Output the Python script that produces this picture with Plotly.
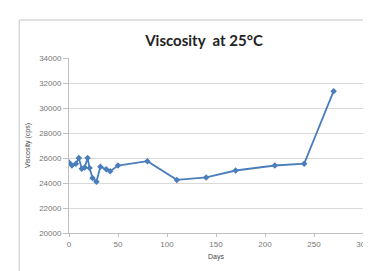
import plotly.graph_objects as go

days = [0, 3, 7, 10, 13, 16, 19, 21, 24, 28, 32, 38, 42, 50, 80, 110, 140, 170, 210, 240, 270]
viscosity = [25650, 25400, 25550, 26000, 25150, 25250, 26000, 25200, 24400, 24100, 25300, 25100, 24950, 25400, 25750, 24250, 24450, 25000, 25400, 25550, 31350]
y_ticks = [20000, 22000, 24000, 26000, 28000, 30000, 32000, 34000]
x_ticks = [0, 50, 100, 150, 200, 250, 300]

W, H = 371, 271
ml, mr, mt, mb = 61, 9, 50, 46
pw, ph = W - ml - mr, H - mt - mb

def px(x):
    return (x - ml) / pw

def py(y):
    return (H - mb - y) / ph

fig = go.Figure()
fig.add_trace(go.Scatter(
    x=days, y=viscosity, mode="lines+markers",
    line=dict(color="#4A7EBB", width=1.8),
    marker=dict(symbol="diamond", size=5, color="#4A7EBB"),
    showlegend=False,
))

fig.update_layout(
    width=W, height=H,
    margin=dict(l=ml, r=mr, t=mt, b=mb),
    paper_bgcolor="white", plot_bgcolor="white",
    title=dict(text="Viscosity  at 25°C", x=196 / W, xanchor="center",
               y=1 - 33 / H, yanchor="middle",
               font=dict(family="Lato", size=15, color="#222222", weight="bold")),
    font=dict(family="Liberation Sans", size=7, color="#777777"),
    shapes=[dict(type="rect", xref="paper", yref="paper",
                 x0=px(10), x1=px(364), y0=py(275), y1=py(12),
                 line=dict(color="#C4C4C4", width=1), layer="below")],
)
fig.update_xaxes(range=[0, 300], tickvals=x_ticks, showgrid=False,
                 showline=True, linecolor="#BFBFBF", linewidth=1,
                 ticks="outside", ticklen=3, tickcolor="#BFBFBF",
                 tickfont=dict(size=8, color="#777777"),
                 title=dict(text="Days", font=dict(size=7, color="#444444"), standoff=6),
                 zeroline=False)
fig.update_yaxes(range=[20000, 34000], tickvals=y_ticks, tickformat="d", showgrid=True,
                 gridcolor="#D9D9D9", gridwidth=1,
                 showline=True, linecolor="#BFBFBF", linewidth=1,
                 ticks="outside", ticklen=5, tickcolor="#BFBFBF",
                 tickfont=dict(size=8, color="#777777"),
                 title=dict(text="Viscosity (cps)", font=dict(size=7, color="#444444"), standoff=7),
                 zeroline=False)

fig.write_html("out.html")
